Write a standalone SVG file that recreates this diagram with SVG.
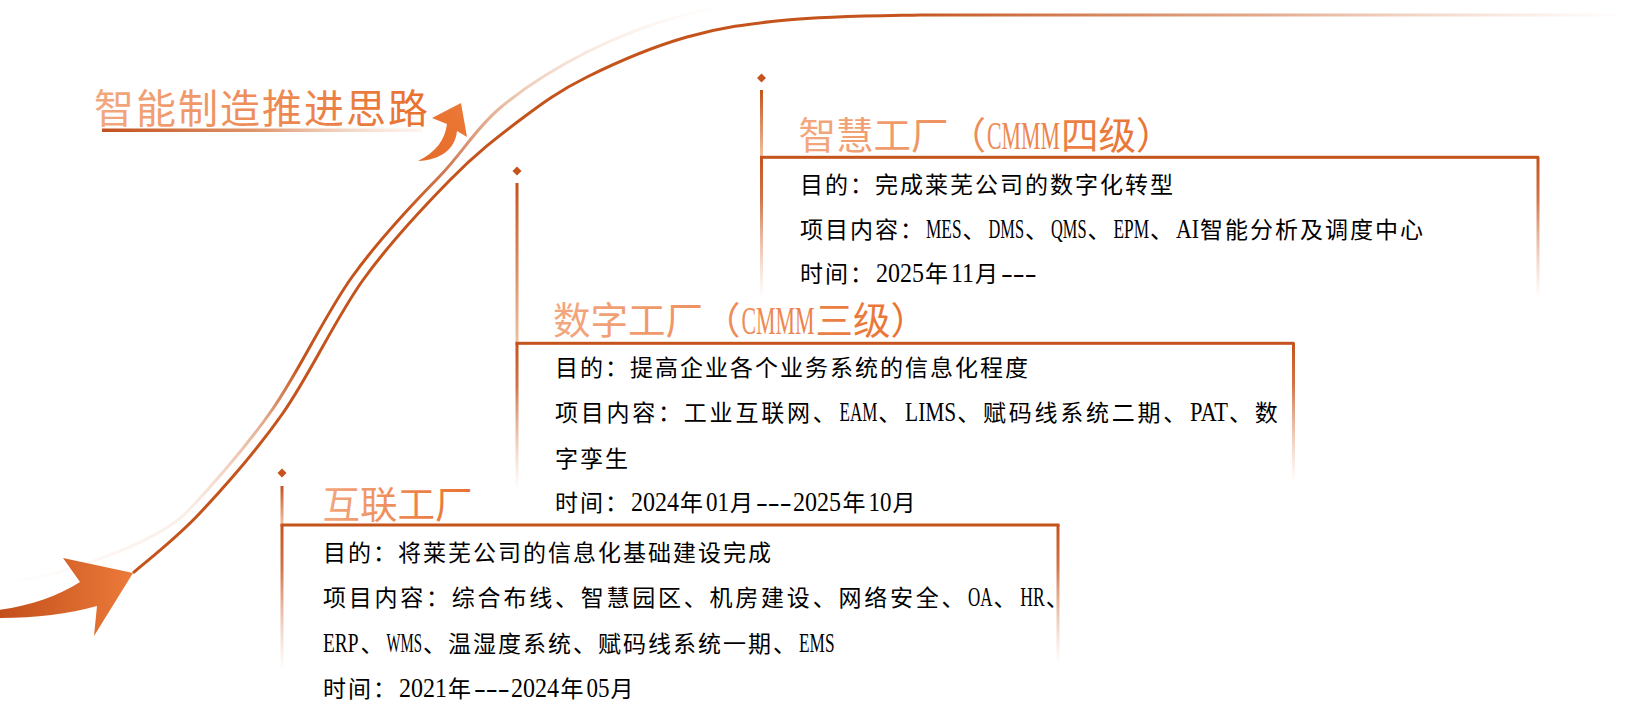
<svg xmlns="http://www.w3.org/2000/svg" width="1627" height="715" viewBox="0 0 1627 715">
<style>
.body{font-family:"Liberation Serif","Noto Sans CJK SC",serif;font-size:23px;letter-spacing:2px;fill:#000}
.just{letter-spacing:2.77px}
.lat{font-family:"Liberation Serif",serif;font-size:27px;letter-spacing:0}
.ttl{font-family:"Liberation Serif","Noto Sans CJK SC",serif;font-size:37.5px;fill:url(#gTitle)}
.latT{font-family:"Liberation Serif",serif;font-size:40px}
.main-title{font-family:"Noto Sans CJK SC",sans-serif;font-size:40px;letter-spacing:2px;fill:url(#gTitle)}
.ln{fill:#c4531c}
</style>
<defs>
<linearGradient id="gTitle" x1="0" y1="0" x2="1" y2="0">
<stop offset="0" stop-color="#f2a880"/>
<stop offset="1" stop-color="#e8702e"/>
</linearGradient>
<linearGradient id="gUnder" x1="0" y1="0" x2="1" y2="0">
<stop offset="0" stop-color="#c2501b"/>
<stop offset="0.5" stop-color="#e09870"/>
<stop offset="1" stop-color="#f6dccc" stop-opacity="0.3"/>
</linearGradient>
<linearGradient id="gArrow" x1="0" y1="0" x2="1" y2="0">
<stop offset="0" stop-color="#c24f1a"/>
<stop offset="1" stop-color="#ec7a3a"/>
</linearGradient>
<linearGradient id="gArrow2" x1="0" y1="1" x2="1" y2="0">
<stop offset="0" stop-color="#e56a28"/>
<stop offset="1" stop-color="#ec7a38"/>
</linearGradient>
<linearGradient id="gDown" x1="0" y1="0" x2="0" y2="1">
<stop offset="0" stop-color="#c4531c"/>
<stop offset="0.3" stop-color="#c85d2a" stop-opacity="0.85"/>
<stop offset="1" stop-color="#e8a07a" stop-opacity="0"/>
</linearGradient>
<linearGradient id="gUp" x1="0" y1="0" x2="0" y2="1">
<stop offset="0" stop-color="#c4531c"/>
<stop offset="1" stop-color="#f0c0a0"/>
</linearGradient>
<linearGradient id="gMain" gradientUnits="userSpaceOnUse" x1="900" y1="0" x2="1625" y2="0">
<stop offset="0" stop-color="#c4531c"/>
<stop offset="0.5" stop-color="#d0703f" stop-opacity="0.6"/>
<stop offset="1" stop-color="#e8a07a" stop-opacity="0"/>
</linearGradient>
<linearGradient id="gLight" gradientUnits="userSpaceOnUse" x1="0" y1="583" x2="780" y2="0">
<stop offset="0" stop-color="#e8a882" stop-opacity="0"/>
<stop offset="0.2" stop-color="#e8a882" stop-opacity="0.2"/>
<stop offset="0.3" stop-color="#d98a60" stop-opacity="0.6"/>
<stop offset="0.38" stop-color="#c4531c"/>
<stop offset="0.56" stop-color="#c4531c"/>
<stop offset="0.64" stop-color="#c86030" stop-opacity="0.75"/>
<stop offset="0.73" stop-color="#d88a60" stop-opacity="0.45"/>
<stop offset="0.83" stop-color="#e8a882" stop-opacity="0.2"/>
<stop offset="0.95" stop-color="#f0c0a0" stop-opacity="0"/>
</linearGradient>
</defs>

<g id="connectors">
<path d="M0,583 C60,578 159,542 189,510 C214,483.3 244.8,448.8 272,410 C299.2,371.2 324.2,315.8 352,277 C379.8,238.2 412.8,203.7 439,177 C462,153.5 475.3,128.8 500,108 C524.7,87.2 555.8,67.7 587,52 C618.2,36.3 654.8,22.7 687,14 C719.2,5.3 764.5,2.3 780,0" fill="none" stroke="url(#gLight)" stroke-width="3"/>
<path d="M133,573 C144.2,563 175,539.7 200,513 C225,486.3 255.8,451.8 283,413 C310.2,374.2 335.2,318.8 363,280 C390.8,241.2 423.8,206.7 450,180 C476.2,153.3 497.2,137.2 520,120 C542.8,102.8 559.2,90.8 587,77 C614.8,63.2 653.7,46.5 687,37 C720.3,27.5 748.2,23.7 787,20 C825.8,16.3 881.2,15.8 920,15 L1625,15" fill="none" stroke="url(#gMain)" stroke-width="3"/>
<path d="M-2,610 C30,606 58,596 80,582 L63,558 L133,573 L94,636 L97,606 C68,614 35,618 -2,618 Z" fill="url(#gArrow)"/>
<path d="M418,161 C436,152 445,140 447,124 L432,118 L461,103 L467,137 L457,131 C455,150 440,160 418,161 Z" fill="url(#gArrow2)"/>
</g>

<g id="title">
<text class="main-title" x="94" y="123">智能制造推进思路</text>
<rect x="102" y="128.5" width="320" height="3.5" fill="url(#gUnder)"/>
</g>

<g id="box-smart">
<polygon class="ln" points="761.5,73.5 766,78 761.5,82.5 757,78"/>
<rect x="760" y="90" width="3" height="66" fill="url(#gUp)"/>
<rect x="760" y="157" width="3" height="141" fill="url(#gDown)"/>
<rect class="ln" x="760" y="155.8" width="779" height="3"/>
<rect x="1536.5" y="157" width="3" height="142" fill="url(#gDown)"/>
<text class="ttl" x="798.5" y="149">智慧工厂（<tspan class="latT" x="987" textLength="73" lengthAdjust="spacingAndGlyphs">CMMM</tspan><tspan x="1061">四级）</tspan></text>
<text class="body" x="800" y="193">目的：完成莱芜公司的数字化转型</text>
<text class="body" x="800" y="238">项目内容：<tspan class="lat" x="926" textLength="35.5" lengthAdjust="spacingAndGlyphs">MES</tspan><tspan x="962.5">、</tspan><tspan class="lat" x="988.5" textLength="35.5" lengthAdjust="spacingAndGlyphs">DMS</tspan><tspan x="1025">、</tspan><tspan class="lat" x="1051" textLength="35.5" lengthAdjust="spacingAndGlyphs">QMS</tspan><tspan x="1087.5">、</tspan><tspan class="lat" x="1113.5" textLength="35.5" lengthAdjust="spacingAndGlyphs">EPM</tspan><tspan x="1150">、</tspan><tspan class="lat" x="1176" textLength="23" lengthAdjust="spacingAndGlyphs">AI</tspan><tspan x="1200">智能分析及调度中心</tspan></text>
<text class="body" x="800" y="282">时间：<tspan class="lat" x="876" textLength="48" lengthAdjust="spacingAndGlyphs">2025</tspan><tspan x="925">年</tspan><tspan class="lat" x="951" textLength="23" lengthAdjust="spacingAndGlyphs">11</tspan><tspan x="975">月</tspan><tspan class="lat" x="1001" textLength="35.5" lengthAdjust="spacingAndGlyphs">---</tspan></text>
</g>

<g id="box-digital">
<polygon class="ln" points="517,166.5 521.5,171 517,175.5 512.5,171"/>
<rect x="515.5" y="183" width="3" height="159" fill="url(#gUp)"/>
<rect x="515.5" y="343" width="3" height="147" fill="url(#gDown)"/>
<rect class="ln" x="515.5" y="341.8" width="779" height="3"/>
<rect x="1292" y="343" width="3" height="140" fill="url(#gDown)"/>
<text class="ttl" x="553" y="334">数字工厂（<tspan class="latT" x="741.5" textLength="73" lengthAdjust="spacingAndGlyphs">CMMM</tspan><tspan x="815.5">三级）</tspan></text>
<text class="body" x="555" y="376">目的：提高企业各个业务系统的信息化程度</text>
<text class="body just" x="555" y="421">项目内容：工业互联网、<tspan class="lat" x="839.5" textLength="37.8" lengthAdjust="spacingAndGlyphs">EAM</tspan><tspan x="878.3">、</tspan><tspan class="lat" x="905.1" textLength="51.1" lengthAdjust="spacingAndGlyphs">LIMS</tspan><tspan x="957.2">、赋码线系统二期、</tspan><tspan class="lat" x="1190.1" textLength="37.8" lengthAdjust="spacingAndGlyphs">PAT</tspan><tspan x="1228.9">、数</tspan></text>
<text class="body" x="555" y="467">字孪生</text>
<text class="body" x="555" y="511">时间：<tspan class="lat" x="631" textLength="48" lengthAdjust="spacingAndGlyphs">2024</tspan><tspan x="680">年</tspan><tspan class="lat" x="706" textLength="23" lengthAdjust="spacingAndGlyphs">01</tspan><tspan x="730">月</tspan><tspan class="lat" x="756" textLength="35.5" lengthAdjust="spacingAndGlyphs">---</tspan><tspan class="lat" x="793" textLength="48" lengthAdjust="spacingAndGlyphs">2025</tspan><tspan x="842.5">年</tspan><tspan class="lat" x="868.5" textLength="23" lengthAdjust="spacingAndGlyphs">10</tspan><tspan x="892.5">月</tspan></text>
</g>

<g id="box-connected">
<polygon class="ln" points="282,468.5 286.5,473 282,477.5 277.5,473"/>
<rect x="280.5" y="486" width="3" height="38" fill="url(#gUp)"/>
<rect x="280.5" y="525" width="3" height="145" fill="url(#gDown)"/>
<rect class="ln" x="280.5" y="523.5" width="779" height="3"/>
<rect x="1056.5" y="525" width="3" height="140" fill="url(#gDown)"/>
<text class="ttl" x="322.5" y="517.5">互联工厂</text>
<text class="body" x="323" y="560.5">目的：将莱芜公司的信息化基础建设完成</text>
<text class="body just" x="323" y="605.5">项目内容：综合布线、智慧园区、机房建设、网络安全、<tspan class="lat" x="968" textLength="24.5" lengthAdjust="spacingAndGlyphs">OA</tspan><tspan x="993.5">、</tspan><tspan class="lat" x="1020.3" textLength="24.5" lengthAdjust="spacingAndGlyphs">HR</tspan><tspan x="1045.8">、</tspan></text>
<text class="body" x="323" y="652"><tspan class="lat" textLength="35.5" lengthAdjust="spacingAndGlyphs">ERP</tspan><tspan x="360.5">、</tspan><tspan class="lat" x="386.5" textLength="35.5" lengthAdjust="spacingAndGlyphs">WMS</tspan><tspan x="423">、温湿度系统、赋码线系统一期、</tspan><tspan class="lat" x="799" textLength="35.5" lengthAdjust="spacingAndGlyphs">EMS</tspan></text>
<text class="body" x="323" y="697">时间：<tspan class="lat" x="399" textLength="48" lengthAdjust="spacingAndGlyphs">2021</tspan><tspan x="448">年</tspan><tspan class="lat" x="474" textLength="35.5" lengthAdjust="spacingAndGlyphs">---</tspan><tspan class="lat" x="511" textLength="48" lengthAdjust="spacingAndGlyphs">2024</tspan><tspan x="560.5">年</tspan><tspan class="lat" x="586.5" textLength="23" lengthAdjust="spacingAndGlyphs">05</tspan><tspan x="610.5">月</tspan></text>
</g>
</svg>
